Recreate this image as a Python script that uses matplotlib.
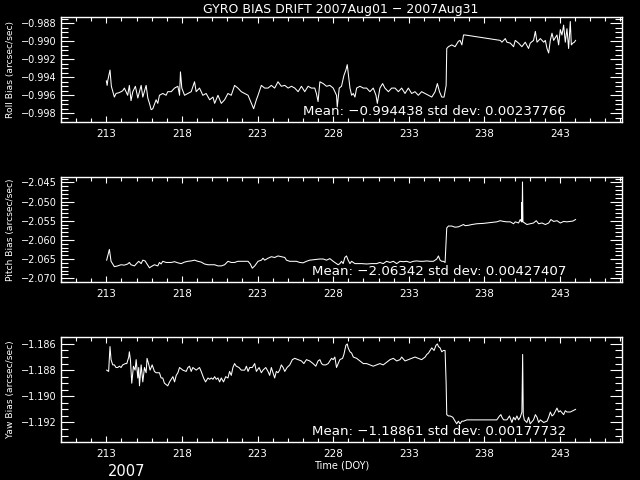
import numpy as np
import matplotlib.pyplot as plt
from matplotlib.ticker import MultipleLocator, FuncFormatter

# Roll bias (arcsec/sec) vs day of year
roll_doy = [213.00, 213.05, 213.10, 213.24, 213.33, 213.53, 213.64, 213.86, 214.08, 214.19,
            214.41, 214.52, 214.63, 214.75, 214.92, 215.08, 215.30, 215.41, 215.63, 215.74,
            215.85, 215.96, 216.07, 216.29, 216.40, 216.51, 216.73, 216.95, 217.06, 217.29,
            217.51, 217.73, 217.84, 217.90, 217.99, 218.17, 218.39, 218.61, 218.83, 218.94,
            219.16, 219.38, 219.60, 219.83, 220.05, 220.16, 220.38, 220.60, 220.82, 221.04,
            221.26, 221.48, 221.70, 221.92, 222.15, 222.37, 222.59, 222.74, 222.92, 223.03,
            223.25, 223.47, 223.69, 223.91, 224.13, 224.35, 224.57, 224.80, 225.02, 225.24,
            225.46, 225.68, 225.90, 226.12, 226.34, 226.56, 226.78, 226.89, 227.00, 227.12,
            227.34, 227.56, 227.78, 228.00, 228.22, 228.27, 228.40, 228.55, 228.71, 228.84,
            228.93, 228.99, 229.11, 229.22, 229.33, 229.44, 229.55, 229.77, 229.99, 230.21,
            230.43, 230.65, 230.83, 230.92, 231.09, 231.27, 231.42, 231.65, 231.87, 232.09,
            232.31, 232.53, 232.75, 232.97, 233.19, 233.41, 233.63, 233.85, 234.08, 234.30,
            234.52, 234.74, 234.89, 235.03, 235.18, 235.33, 235.47, 235.51, 235.62, 235.84,
            236.06, 236.28, 236.39, 236.51, 236.62, 236.73, 239.05, 239.16, 239.27, 239.38,
            239.49, 239.71, 239.93, 240.04, 240.26, 240.48, 240.70, 240.92, 241.03, 241.25,
            241.37, 241.48, 241.70, 241.92, 242.03, 242.14, 242.25, 242.36, 242.47, 242.58,
            242.80, 242.91, 243.02, 243.13, 243.24, 243.35, 243.46, 243.57, 243.68, 243.75,
            243.85, 243.95, 244.03]
roll_bias = [-0.9944, -0.9949, -0.9943, -0.9932, -0.9950, -0.9962, -0.9958, -0.9957, -0.9955, -0.9952,
             -0.9960, -0.9949, -0.9966, -0.9956, -0.9950, -0.9963, -0.9949, -0.9962, -0.9949, -0.9963,
             -0.9969, -0.9976, -0.9975, -0.9965, -0.9969, -0.9960, -0.9958, -0.9960, -0.9956, -0.9956,
             -0.9952, -0.9950, -0.9960, -0.9934, -0.9952, -0.9960, -0.9958, -0.9956, -0.9945, -0.9956,
             -0.9952, -0.9960, -0.9958, -0.9965, -0.9962, -0.9969, -0.9960, -0.9969, -0.9965, -0.9958,
             -0.9960, -0.9949, -0.9952, -0.9956, -0.9958, -0.9960, -0.9969, -0.9975, -0.9965, -0.9960,
             -0.9949, -0.9952, -0.9952, -0.9949, -0.9952, -0.9945, -0.9950, -0.9949, -0.9952, -0.9950,
             -0.9952, -0.9956, -0.9950, -0.9956, -0.9950, -0.9952, -0.9952, -0.9958, -0.9967, -0.9945,
             -0.9947, -0.9950, -0.9949, -0.9952, -0.9960, -0.9973, -0.9952, -0.9950, -0.9938, -0.9932,
             -0.9926, -0.9935, -0.9952, -0.9960, -0.9958, -0.9962, -0.9952, -0.9950, -0.9952, -0.9952,
             -0.9956, -0.9952, -0.9960, -0.9969, -0.9952, -0.9947, -0.9952, -0.9956, -0.9952, -0.9952,
             -0.9956, -0.9952, -0.9958, -0.9952, -0.9958, -0.9956, -0.9960, -0.9956, -0.9958, -0.9960,
             -0.9962, -0.9956, -0.9947, -0.9956, -0.9962, -0.9962, -0.9949, -0.9908, -0.9906, -0.9904,
             -0.9906, -0.9900, -0.9899, -0.9904, -0.9893, -0.9893, -0.9899, -0.9901, -0.9899, -0.9897,
             -0.9901, -0.9902, -0.9906, -0.9899, -0.9902, -0.9906, -0.9901, -0.9908, -0.9902, -0.9899,
             -0.9889, -0.9901, -0.9897, -0.9901, -0.9899, -0.9908, -0.9913, -0.9899, -0.9891, -0.9899,
             -0.9893, -0.9904, -0.9887, -0.9893, -0.9882, -0.9901, -0.9886, -0.9908, -0.9878, -0.9904,
             -0.9902, -0.9901, -0.9899]

# Pitch bias
pitch_doy = [213.02, 213.20, 213.31, 213.42, 213.53, 213.75, 213.97, 214.19, 214.41, 214.52,
             214.63, 214.86, 214.97, 215.14, 215.30, 215.41, 215.56, 215.67, 215.85, 215.96,
             216.18, 216.40, 216.51, 216.62, 216.73, 216.95, 217.29, 217.51, 217.73, 217.95,
             218.17, 218.39, 218.61, 218.83, 219.05, 219.27, 219.49, 219.72, 219.94, 220.16,
             220.38, 220.60, 220.82, 221.04, 221.26, 221.48, 221.70, 221.92, 222.15, 222.37,
             222.52, 222.65, 222.81, 223.03, 223.25, 223.36, 223.47, 223.69, 223.91, 224.13,
             224.35, 224.57, 224.80, 224.91, 225.13, 225.35, 225.57, 225.79, 226.01, 226.23,
             226.45, 226.67, 226.89, 227.12, 227.34, 227.56, 227.78, 228.00, 228.22, 228.33,
             228.44, 228.55, 228.66, 228.77, 228.88, 228.99, 229.11, 229.22, 229.44, 229.66,
             229.88, 230.21, 230.54, 230.87, 231.09, 231.31, 231.53, 231.76, 231.98, 232.20,
             232.42, 232.64, 232.86, 233.08, 233.30, 233.52, 233.74, 233.97, 234.19, 234.41,
             234.63, 234.85, 234.96, 235.07, 235.18, 235.29, 235.40, 235.45, 235.51, 235.62,
             235.84, 236.06, 236.28, 236.51, 236.62, 236.73, 236.95, 237.17, 237.50, 237.94,
             238.38, 238.82, 239.05, 239.27, 239.49, 239.71, 239.93, 240.04, 240.26, 240.37,
             240.45, 240.47, 240.49, 240.52, 240.55, 240.81, 241.03, 241.25, 241.43, 241.59,
             241.81, 242.03, 242.25, 242.40, 242.58, 242.80, 243.02, 243.24, 243.46, 243.68,
             243.85, 244.03]
pitch_bias = [-2.0653, -2.0625, -2.0656, -2.0663, -2.0670, -2.0668, -2.0665, -2.0666, -2.0663, -2.0659,
              -2.0665, -2.0668, -2.0663, -2.0656, -2.0662, -2.0653, -2.0655, -2.0662, -2.0673, -2.0670,
              -2.0665, -2.0668, -2.0659, -2.0663, -2.0656, -2.0659, -2.0659, -2.0657, -2.0660, -2.0662,
              -2.0658, -2.0656, -2.0655, -2.0653, -2.0656, -2.0658, -2.0663, -2.0665, -2.0665, -2.0665,
              -2.0668, -2.0668, -2.0665, -2.0656, -2.0659, -2.0659, -2.0656, -2.0656, -2.0656, -2.0656,
              -2.0663, -2.0674, -2.0668, -2.0656, -2.0653, -2.0648, -2.0653, -2.0648, -2.0644, -2.0646,
              -2.0642, -2.0644, -2.0646, -2.0653, -2.0656, -2.0656, -2.0656, -2.0659, -2.0660, -2.0656,
              -2.0653, -2.0652, -2.0651, -2.0650, -2.0650, -2.0653, -2.0649, -2.0656, -2.0662, -2.0665,
              -2.0662, -2.0656, -2.0662, -2.0646, -2.0642, -2.0653, -2.0662, -2.0656, -2.0662, -2.0662,
              -2.0662, -2.0663, -2.0662, -2.0662, -2.0659, -2.0662, -2.0656, -2.0659, -2.0656, -2.0662,
              -2.0656, -2.0657, -2.0656, -2.0659, -2.0656, -2.0655, -2.0656, -2.0656, -2.0655, -2.0656,
              -2.0656, -2.0650, -2.0642, -2.0653, -2.0656, -2.0656, -2.0659, -2.0620, -2.0569, -2.0564,
              -2.0564, -2.0567, -2.0566, -2.0562, -2.0560, -2.0563, -2.0562, -2.0560, -2.0558, -2.0557,
              -2.0555, -2.0553, -2.0550, -2.0552, -2.0553, -2.0553, -2.0558, -2.0553, -2.0556, -2.0547,
              -2.0553, -2.0503, -2.0553, -2.0449, -2.0553, -2.0560, -2.0558, -2.0556, -2.0550, -2.0558,
              -2.0556, -2.0560, -2.0556, -2.0547, -2.0552, -2.0550, -2.0556, -2.0552, -2.0553, -2.0552,
              -2.0551, -2.0547]

# Yaw bias
yaw_doy = [213.02, 213.15, 213.24, 213.31, 213.42, 213.53, 213.64, 213.75, 213.86, 213.97,
           214.08, 214.26, 214.35, 214.48, 214.52, 214.59, 214.68, 214.79, 214.90, 214.97,
           215.08, 215.14, 215.19, 215.30, 215.41, 215.52, 215.63, 215.69, 215.81, 215.89,
           216.03, 216.18, 216.29, 216.51, 216.62, 216.73, 216.84, 216.95, 217.06, 217.18,
           217.29, 217.40, 217.51, 217.62, 217.73, 217.84, 218.06, 218.28, 218.39, 218.50,
           218.61, 218.72, 218.94, 219.16, 219.27, 219.43, 219.56, 219.72, 219.83, 219.94,
           220.05, 220.16, 220.27, 220.38, 220.49, 220.60, 220.75, 220.89, 221.04, 221.15,
           221.26, 221.37, 221.48, 221.59, 221.77, 221.92, 222.15, 222.26, 222.37, 222.48,
           222.65, 222.81, 222.92, 223.10, 223.25, 223.36, 223.54, 223.69, 223.80, 223.91,
           224.02, 224.13, 224.24, 224.35, 224.46, 224.57, 224.69, 224.80, 224.95, 225.13,
           225.30, 225.46, 225.68, 225.90, 226.06, 226.23, 226.45, 226.67, 226.85, 227.00,
           227.12, 227.23, 227.34, 227.51, 227.67, 227.78, 227.89, 228.00, 228.11, 228.22,
           228.33, 228.44, 228.62, 228.71, 228.84, 228.93, 228.99, 229.11, 229.22, 229.33,
           229.55, 229.77, 229.99, 230.21, 230.43, 230.65, 230.87, 231.09, 231.31, 231.53,
           231.76, 231.98, 232.20, 232.42, 232.53, 232.75, 232.97, 233.19, 233.41, 233.63,
           233.85, 234.08, 234.19, 234.30, 234.41, 234.52, 234.67, 234.80, 234.89, 234.96,
           235.07, 235.18, 235.29, 235.40, 235.47, 235.51, 235.62, 235.73, 235.91, 236.06,
           236.17, 236.28, 236.39, 236.51, 236.62, 236.84, 237.06, 237.50, 238.38, 238.82,
           239.00, 239.09, 239.16, 239.27, 239.49, 239.66, 239.82, 239.93, 240.04, 240.15,
           240.26, 240.37, 240.48, 240.50, 240.53, 240.57, 240.64, 240.81, 240.92, 241.03,
           241.25, 241.37, 241.48, 241.59, 241.70, 241.92, 242.14, 242.25, 242.36, 242.47,
           242.58, 242.80, 242.91, 243.02, 243.24, 243.35, 243.46, 243.57, 243.68, 243.85,
           244.03]
yaw_bias = [-1.1880, -1.1881, -1.1862, -1.1872, -1.1876, -1.1876, -1.1878, -1.1878, -1.1877, -1.1878,
            -1.1876, -1.1875, -1.1875, -1.1870, -1.1866, -1.1872, -1.1890, -1.1877, -1.1880, -1.1872,
            -1.1886, -1.1878, -1.1892, -1.1876, -1.1889, -1.1878, -1.1882, -1.1871, -1.1876, -1.1880,
            -1.1876, -1.1881, -1.1882, -1.1882, -1.1886, -1.1886, -1.1890, -1.1891, -1.1892, -1.1889,
            -1.1887, -1.1885, -1.1889, -1.1884, -1.1882, -1.1878, -1.1880, -1.1881, -1.1878, -1.1877,
            -1.1881, -1.1878, -1.1880, -1.1878, -1.1881, -1.1886, -1.1889, -1.1886, -1.1887, -1.1886,
            -1.1887, -1.1885, -1.1887, -1.1886, -1.1889, -1.1886, -1.1889, -1.1885, -1.1886, -1.1881,
            -1.1884, -1.1878, -1.1875, -1.1877, -1.1878, -1.1880, -1.1880, -1.1877, -1.1881, -1.1878,
            -1.1878, -1.1875, -1.1881, -1.1878, -1.1882, -1.1880, -1.1878, -1.1881, -1.1884, -1.1878,
            -1.1882, -1.1886, -1.1881, -1.1882, -1.1880, -1.1876, -1.1878, -1.1881, -1.1878, -1.1876,
            -1.1872, -1.1871, -1.1872, -1.1873, -1.1875, -1.1872, -1.1873, -1.1875, -1.1877, -1.1873,
            -1.1872, -1.1875, -1.1876, -1.1876, -1.1875, -1.1873, -1.1871, -1.1872, -1.1870, -1.1878,
            -1.1875, -1.1872, -1.1871, -1.1868, -1.1861, -1.1860, -1.1863, -1.1866, -1.1867, -1.1870,
            -1.1871, -1.1873, -1.1875, -1.1875, -1.1876, -1.1877, -1.1876, -1.1875, -1.1876, -1.1874,
            -1.1872, -1.1871, -1.1873, -1.1872, -1.1870, -1.1873, -1.1872, -1.1871, -1.1870, -1.1871,
            -1.1872, -1.1870, -1.1868, -1.1867, -1.1865, -1.1863, -1.1865, -1.1861, -1.1860, -1.1862,
            -1.1863, -1.1866, -1.1865, -1.1865, -1.1890, -1.1914, -1.1915, -1.1915, -1.1916, -1.1919,
            -1.1921, -1.1919, -1.1921, -1.1919, -1.1919, -1.1918, -1.1918, -1.1918, -1.1918, -1.1918,
            -1.1915, -1.1914, -1.1916, -1.1918, -1.1918, -1.1915, -1.1920, -1.1916, -1.1918, -1.1915,
            -1.1918, -1.1916, -1.1912, -1.1894, -1.1868, -1.1914, -1.1918, -1.1920, -1.1916, -1.1921,
            -1.1918, -1.1914, -1.1916, -1.1920, -1.1918, -1.1920, -1.1919, -1.1916, -1.1912, -1.1915,
            -1.1914, -1.1909, -1.1912, -1.1911, -1.1914, -1.1911, -1.1912, -1.1912, -1.1912, -1.1911,
            -1.1910]

ylabels = ["Roll Bias (arcsec/sec)", "Pitch Bias (arcsec/sec)", "Yaw Bias (arcsec/sec)"]
means = ["-0.994438", "-2.06342", "-1.18861"]
stdevs = ["0.00237766", "0.00427407", "0.00177732"]
ylims = [(-0.99897, -0.98730), (-2.0710, -2.0436), (-1.19349, -1.18547)]
ymajor = [0.002, 0.005, 0.002]
yminor = [0.0005, 0.001, 0.0005]

fg = "white"
plt.rcParams['font.family'] = ['DejaVu Sans']
fig = plt.figure(figsize=(6.4, 4.8), dpi=100, facecolor="black")

series = [(roll_doy, roll_bias), (pitch_doy, pitch_bias), (yaw_doy, yaw_bias)]
tops = [17, 177, 337]
for i, (x, y) in enumerate(series):
    top = tops[i]
    ax = fig.add_axes([61/640, 1 - (top + 105)/480, 561/640, 105/480])
    ax.set_facecolor("black")
    ax.plot(x, y, color=fg, lw=0.75)
    ax.set_xlim(210, 247.1)
    ax.set_ylim(*ylims[i])
    ax.set_xticks(np.arange(213, 245, 5))
    ax.xaxis.set_minor_locator(MultipleLocator(1))
    ax.yaxis.set_major_locator(MultipleLocator(ymajor[i]))
    ax.yaxis.set_minor_locator(MultipleLocator(yminor[i]))
    ax.yaxis.set_major_formatter(FuncFormatter(lambda v, p: ("%.3f" % v).replace("-", "\u2212")))
    for s in ax.spines.values():
        s.set_color(fg)
        s.set_linewidth(1.0)
    ax.tick_params(axis="x", which="both", direction="in", top=True, bottom=True,
                   colors=fg, labelsize=7.5, pad=5)
    ax.tick_params(axis="x", which="major", length=4, width=0.8)
    ax.tick_params(axis="x", which="minor", length=3, width=0.8)
    ax.tick_params(axis="y", which="both", direction="in", left=True, right=True,
                   colors=fg, labelsize=7, pad=3)
    ax.tick_params(axis="y", which="major", length=9, width=0.8)
    ax.tick_params(axis="y", which="minor", length=5, width=0.8)
    ax.set_ylabel(ylabels[i], color=fg, fontsize=6.6)
    ax.yaxis.set_label_coords(-46/561, 0.5)
    ax.text(0.900, 0.065, "Mean: %s std dev: %s" % (means[i].replace("-", "\u2212"), stdevs[i]),
            transform=ax.transAxes, ha="right", va="baseline", color=fg, fontsize=9.6)
    if i == 2:
        ax.set_xlabel("Time (DOY)", color=fg, fontsize=7, labelpad=1)

fig.text(341/640, 1 - 9/480, "GYRO BIAS DRIFT 2007Aug01 \u2212 2007Aug31",
         ha="center", va="center", color=fg, fontsize=9)
fig.text(127/640, 1 - 476/480, "2007", ha="center", va="baseline", color=fg, fontsize=10.5)

fig.savefig("out.png", dpi=100, facecolor="black")
